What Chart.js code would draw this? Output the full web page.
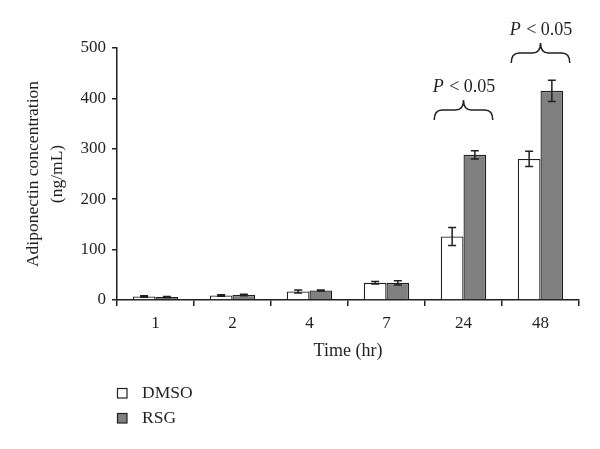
<!DOCTYPE html>
<html>
<head>
<meta charset="utf-8">
<script src="https://cdn.jsdelivr.net/npm/chart.js@4"></script>
<style>
  html, body { margin: 0; padding: 0; background: #fff; }
  #wrap { width: 600px; height: 449px; }
</style>
</head>
<body>
<div id="wrap"><canvas id="chart" width="600" height="449"></canvas></div>
<script>
// time points (hr)
const timeLabels = ['1', '2', '4', '7', '24', '48'];

// adiponectin concentration (ng/mL)
const dmsoValues = [7, 9, 17, 34, 126, 280];
const rsgValues = [6, 10, 19, 34, 288, 415];

// error bar half-lengths
const dmsoErr = [1.5, 1.5, 3, 2.5, 18, 15];
const rsgErr = [1, 1.5, 1, 4, 8, 21];

// significance brackets
const braceCats = ['24', '48'];
const braceLevels = [357, 470];
const braceText = ['P', ' < 0.05'];

const yTicks = [0, 100, 200, 300, 400, 500];

const SERIF = '"Liberation Serif", "DejaVu Serif", serif';
const INK = '#231f20';

const errorBars = {
    id: 'errorBars',
    afterDatasetsDraw(chart) {
        const ctx = chart.ctx;
        const y = chart.scales.y;
        const errs = [dmsoErr, rsgErr];
        ctx.save();
        ctx.strokeStyle = INK;
        ctx.lineWidth = 1.5;
        chart.data.datasets.forEach((ds, di) => {
            const meta = chart.getDatasetMeta(di);
            meta.data.forEach((bar, i) => {
                const v = ds.data[i];
                const e = errs[di][i];
                const yTop = y.getPixelForValue(v + e);
                const yBot = y.getPixelForValue(v - e);
                const x = bar.x;
                ctx.beginPath();
                ctx.moveTo(x, yTop); ctx.lineTo(x, yBot);
                ctx.moveTo(x - 4, yTop); ctx.lineTo(x + 4, yTop);
                ctx.moveTo(x - 4, yBot); ctx.lineTo(x + 4, yBot);
                ctx.stroke();
            });
        });
        ctx.restore();
    }
};

const braces = {
    id: 'braces',
    afterDatasetsDraw(chart) {
        const ctx = chart.ctx;
        const xs = chart.scales.x;
        const ys = chart.scales.y;
        const half = xs.getPixelForValue(1) - xs.getPixelForValue(0);
        ctx.save();
        ctx.strokeStyle = INK;
        ctx.lineWidth = 1.5;
        braceCats.forEach((cat, k) => {
            const cx = xs.getPixelForValue(timeLabels.indexOf(cat));
            const x1 = cx - half * 0.38;
            const x2 = cx + half * 0.38;
            const yb = ys.getPixelForValue(braceLevels[k]);
            const yh = yb - 10;
            const yt = yb - 20;
            ctx.beginPath();
            ctx.moveTo(x1, yb);
            ctx.quadraticCurveTo(x1, yh, x1 + 8, yh);
            ctx.lineTo(cx - 8, yh);
            ctx.quadraticCurveTo(cx, yh, cx, yt);
            ctx.quadraticCurveTo(cx, yh, cx + 8, yh);
            ctx.lineTo(x2 - 8, yh);
            ctx.quadraticCurveTo(x2, yh, x2, yb);
            ctx.stroke();

            // "P < 0.05" with italic P
            ctx.fillStyle = INK;
            ctx.textBaseline = 'middle';
            ctx.textAlign = 'left';
            const italic = 'italic 18px ' + SERIF;
            const normal = '18px ' + SERIF;
            ctx.font = italic;
            const w1 = ctx.measureText(braceText[0]).width;
            ctx.font = normal;
            const w2 = ctx.measureText(braceText[1]).width;
            const tx = cx - (w1 + w2) / 2;
            const ty = yt - 13;
            ctx.font = italic;
            ctx.fillText(braceText[0], tx, ty);
            ctx.font = normal;
            ctx.fillText(braceText[1], tx + w1 + 1, ty);
        });
        ctx.restore();
    }
};

const sideLegend = {
    id: 'sideLegend',
    afterDraw(chart) {
        const ctx = chart.ctx;
        ctx.save();
        ctx.font = '17.5px ' + SERIF;
        ctx.textBaseline = 'middle';
        ctx.textAlign = 'left';
        chart.data.datasets.forEach((ds, i) => {
            const cy = 393 + i * 25;
            ctx.fillStyle = ds.backgroundColor;
            ctx.fillRect(117.5, cy - 4.5, 9.5, 9.5);
            ctx.strokeStyle = INK;
            ctx.lineWidth = 1.2;
            ctx.strokeRect(117.5, cy - 4.5, 9.5, 9.5);
            ctx.fillStyle = INK;
            ctx.fillText(ds.label, 142, cy);
        });
        ctx.restore();
    }
};

new Chart(document.getElementById('chart'), {
    type: 'bar',
    data: {
        labels: timeLabels,
        datasets: [
            {
                label: 'DMSO',
                data: dmsoValues,
                backgroundColor: '#ffffff',
                borderColor: INK,
                borderWidth: 1.3
            },
            {
                label: 'RSG',
                data: rsgValues,
                backgroundColor: '#808080',
                borderColor: INK,
                borderWidth: 1.3
            }
        ]
    },
    options: {
        responsive: false,
        animation: false,
        layout: { padding: { top: 48, right: 21, left: 0, bottom: 0 } },
        datasets: {
            bar: { categoryPercentage: 0.59, barPercentage: 1.0 }
        },
        plugins: {
            legend: { display: false },
            tooltip: { enabled: false }
        },
        scales: {
            x: {
                afterFit(scale) { scale.height = 149; },
                grid: {
                    offset: true,
                    drawOnChartArea: false,
                    tickLength: 6,
                    color: INK,
                    lineWidth: 1.5
                },
                border: { display: true, color: INK, width: 1.5 },
                ticks: {
                    color: INK,
                    padding: 7,
                    font: { family: SERIF, size: 17 }
                },
                title: {
                    display: true,
                    text: 'Time (hr)',
                    color: INK,
                    font: { family: SERIF, size: 18, lineHeight: 1.2 },
                    padding: { top: 0, bottom: 87 }
                }
            },
            y: {
                min: 0,
                max: 500,
                afterFit(scale) { scale.width = 117; },
                afterBuildTicks(scale) { scale.ticks = yTicks.map(v => ({ value: v })); },
                grid: {
                    drawOnChartArea: false,
                    tickLength: 5,
                    color: INK,
                    lineWidth: 1.5
                },
                border: { display: true, color: INK, width: 1.5 },
                ticks: {
                    color: INK,
                    padding: 6,
                    font: { family: SERIF, size: 17 }
                },
                title: {
                    display: true,
                    text: ['Adiponectin concentration', '(ng/mL)'],
                    color: INK,
                    font: { family: SERIF, size: 17.5, lineHeight: 1.4 },
                    padding: { top: 21, bottom: 0 }
                }
            }
        }
    },
    plugins: [errorBars, braces, sideLegend]
});
</script>
</body>
</html>
